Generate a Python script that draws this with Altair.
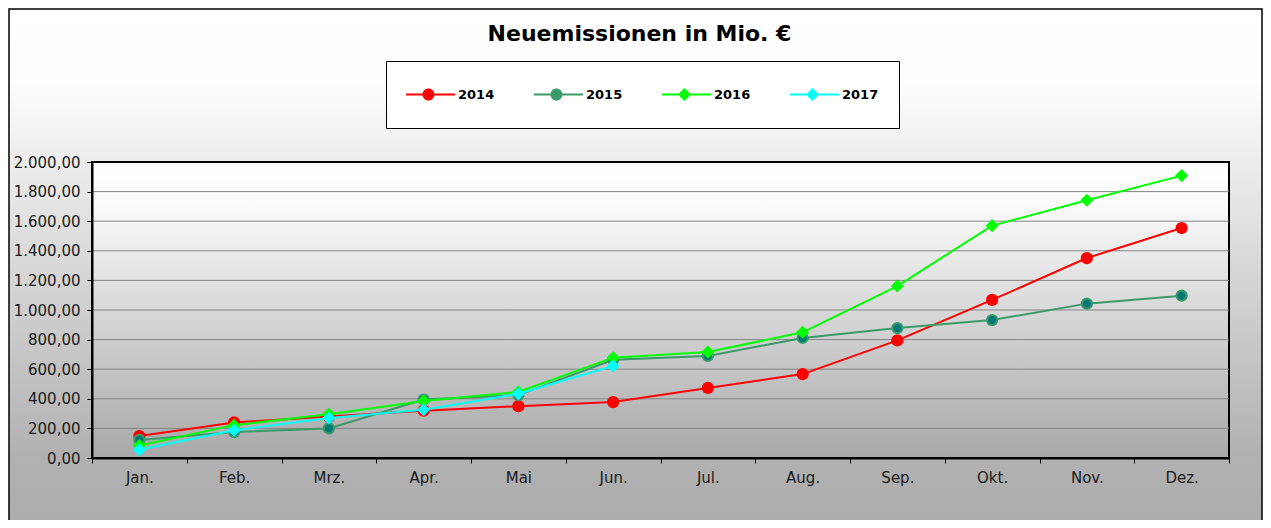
import altair as alt
import pandas as pd

# ---------------- data ----------------
months = ["Jan.", "Feb.", "Mrz.", "Apr.", "Mai", "Jun.", "Jul.", "Aug.", "Sep.", "Okt.", "Nov.", "Dez."]
years = ["2014", "2015", "2016", "2017"]
v2014 = [148, 240, 280, 320, 350, 378, 473, 567, 795, 1068, 1351, 1554]
v2015 = [122, 175, 200, 395, 425, 664, 690, 811, 878, 932, 1043, 1097]
v2016 = [85, 222, 295, 385, 446, 678, 716, 849, 1162, 1570, 1741, 1908]
v2017 = [56, 187, 270, 326, 434, 622]
y_ticks = [0, 200, 400, 600, 800, 1000, 1200, 1400, 1600, 1800, 2000]
grid_values = [200, 400, 600, 800, 1000, 1200, 1400, 1600, 1800]

series = {"2014": v2014, "2015": v2015, "2016": v2016, "2017": v2017}
rows = []
for yr in years:
    for m, v in zip(months, series[yr]):
        rows.append({"year": yr, "month": m, "value": v})
df = pd.DataFrame(rows)

# ---------------- styles ----------------
line_colors = ["#ff0000", "#3a9a6a", "#00ff00", "#00ffff"]
marker_fill = ["#ff0000", "#007878", "#00ff00", "#00ffff"]
marker_shape = ["circle", "circle", "diamond", "diamond"]
marker_size = [150, 105, 170, 170]
marker_stroke_w = [0, 2, 0, 0]

W, H = 1137, 296
PAD = {"left": 84, "top": 154, "right": 34, "bottom": 62}
FONT = "DejaVu Sans"

circle_path = ("M-1.325,-0.05H-0.27V0.05H-1.325Z M0.27,-0.05H1.325V0.05H0.27Z "
               "M-0.3,0A0.3,0.3 0 1,1 0.3,0A0.3,0.3 0 1,1 -0.3,0Z")
diamond_path = ("M-1.325,-0.05H-0.25V0.05H-1.325Z M0.25,-0.05H1.325V0.05H0.25Z "
                "M0,-0.33L0.33,0L0,0.33L-0.33,0Z")
legend_paths = [circle_path, circle_path, diamond_path, diamond_path]

outer_gradient = {
    "gradient": "linear", "x1": 0, "y1": 0, "x2": 0, "y2": 1,
    "stops": [
        {"offset": 0, "color": "#ffffff"},
        {"offset": 0.13, "color": "#fdfdfd"},
        {"offset": 0.255, "color": "#efefef"},
        {"offset": 0.8, "color": "#b1b1b1"},
        {"offset": 1, "color": "#aaaaaa"},
    ],
}
plot_gradient = {
    "gradient": "linear", "x1": 0, "y1": 0, "x2": 0, "y2": 1,
    "stops": [
        {"offset": 0, "color": "#ffffff"},
        {"offset": 0.15, "color": "#fafafa"},
        {"offset": 1, "color": "#a8a8a8"},
    ],
}

x_enc = alt.X(
    "month:N", sort=months,
    scale=alt.Scale(type="band", domain=months, paddingInner=0, paddingOuter=0),
    axis=alt.Axis(title=None, labelAngle=0, tickBand="extent", grid=False,
                  domainColor="black", domainWidth=2, tickColor="black",
                  tickSize=5, tickWidth=1, labelFont=FONT, labelFontSize=15,
                  labelColor="#1a1a1a", labelPadding=7, zindex=1),
)
y_enc = alt.Y(
    "value:Q",
    scale=alt.Scale(domain=[0, 2000], nice=False, zero=True),
    axis=alt.Axis(title=None, values=y_ticks, format=",.2f", grid=False,
                  domainColor="black", domainWidth=2, tickColor="black",
                  tickSize=5, tickWidth=1, labelFont=FONT, labelFontSize=15,
                  labelColor="#1a1a1a", labelPadding=7, zindex=1),
)

legend = alt.Legend(
    title=None, orient="none", legendX=294, legendY=-101, direction="horizontal",
    fillColor="white", strokeColor="black", padding=20, clipHeight=27,
    symbolSize=1600, symbolOffset=2.5, labelOffset=9.5, columnPadding=39,
    labelFont=FONT, labelFontSize=13, labelFontWeight="bold", labelColor="black",
    symbolStrokeWidth=0, symbolOpacity=1,
)

# legend carrier (hidden beneath the backgrounds)
carrier = alt.Chart(df).mark_point(filled=True, opacity=1, size=1600).encode(
    x=x_enc, y=y_enc,
    color=alt.Color("year:N", scale=alt.Scale(domain=years, range=line_colors), legend=legend),
    shape=alt.Shape("year:N", scale=alt.Scale(domain=years, range=legend_paths), legend=legend),
)

one = pd.DataFrame({"k": [0]})
outer_bg = alt.Chart(one).mark_rect(fill=outer_gradient, stroke="black", strokeWidth=1.5).encode(
    x=alt.value(-83), x2=alt.value(W + PAD["right"] - 1),
    y=alt.value(-PAD["top"] + 1), y2=alt.value(H + 110),
)
plot_bg = alt.Chart(one).mark_rect(fill=plot_gradient, stroke="black", strokeWidth=2).encode(
    x=alt.value(0), x2=alt.value(W), y=alt.value(0), y2=alt.value(H),
)
grid = alt.Chart(pd.DataFrame({"value": grid_values})).mark_rule(
    color="#858585", strokeWidth=1
).encode(y=y_enc)

layers = [carrier, outer_bg, plot_bg, grid]
for i, yr in enumerate(years):
    base = alt.Chart(df).transform_filter(alt.datum.year == yr)
    layers.append(base.mark_line(color=line_colors[i], strokeWidth=2).encode(x=x_enc, y=y_enc))
    layers.append(
        base.mark_point(shape=marker_shape[i], filled=True, size=marker_size[i],
                        fill=marker_fill[i], stroke=line_colors[i],
                        strokeWidth=marker_stroke_w[i], opacity=1).encode(x=x_enc, y=y_enc)
    )

title = alt.TitleParams(
    text="Neuemissionen in Mio. €", font=FONT, fontSize=22, fontWeight="bold",
    color="black", anchor="middle", frame="bounds", offset=0, dy=60, dx=4,
    baseline="bottom",
)

chart = alt.layer(*layers).properties(
    width=W, height=H, padding=PAD,
    autosize=alt.AutoSizeParams(type="none"),
    title=title,
).configure(
    background="white",
    locale={"number": {"decimal": ",", "thousands": ".", "grouping": [3],
                       "currency": ["", " €"]}},
).configure_view(stroke=None)

chart.save("out.html", embed_options={"renderer": "svg", "actions": False})
